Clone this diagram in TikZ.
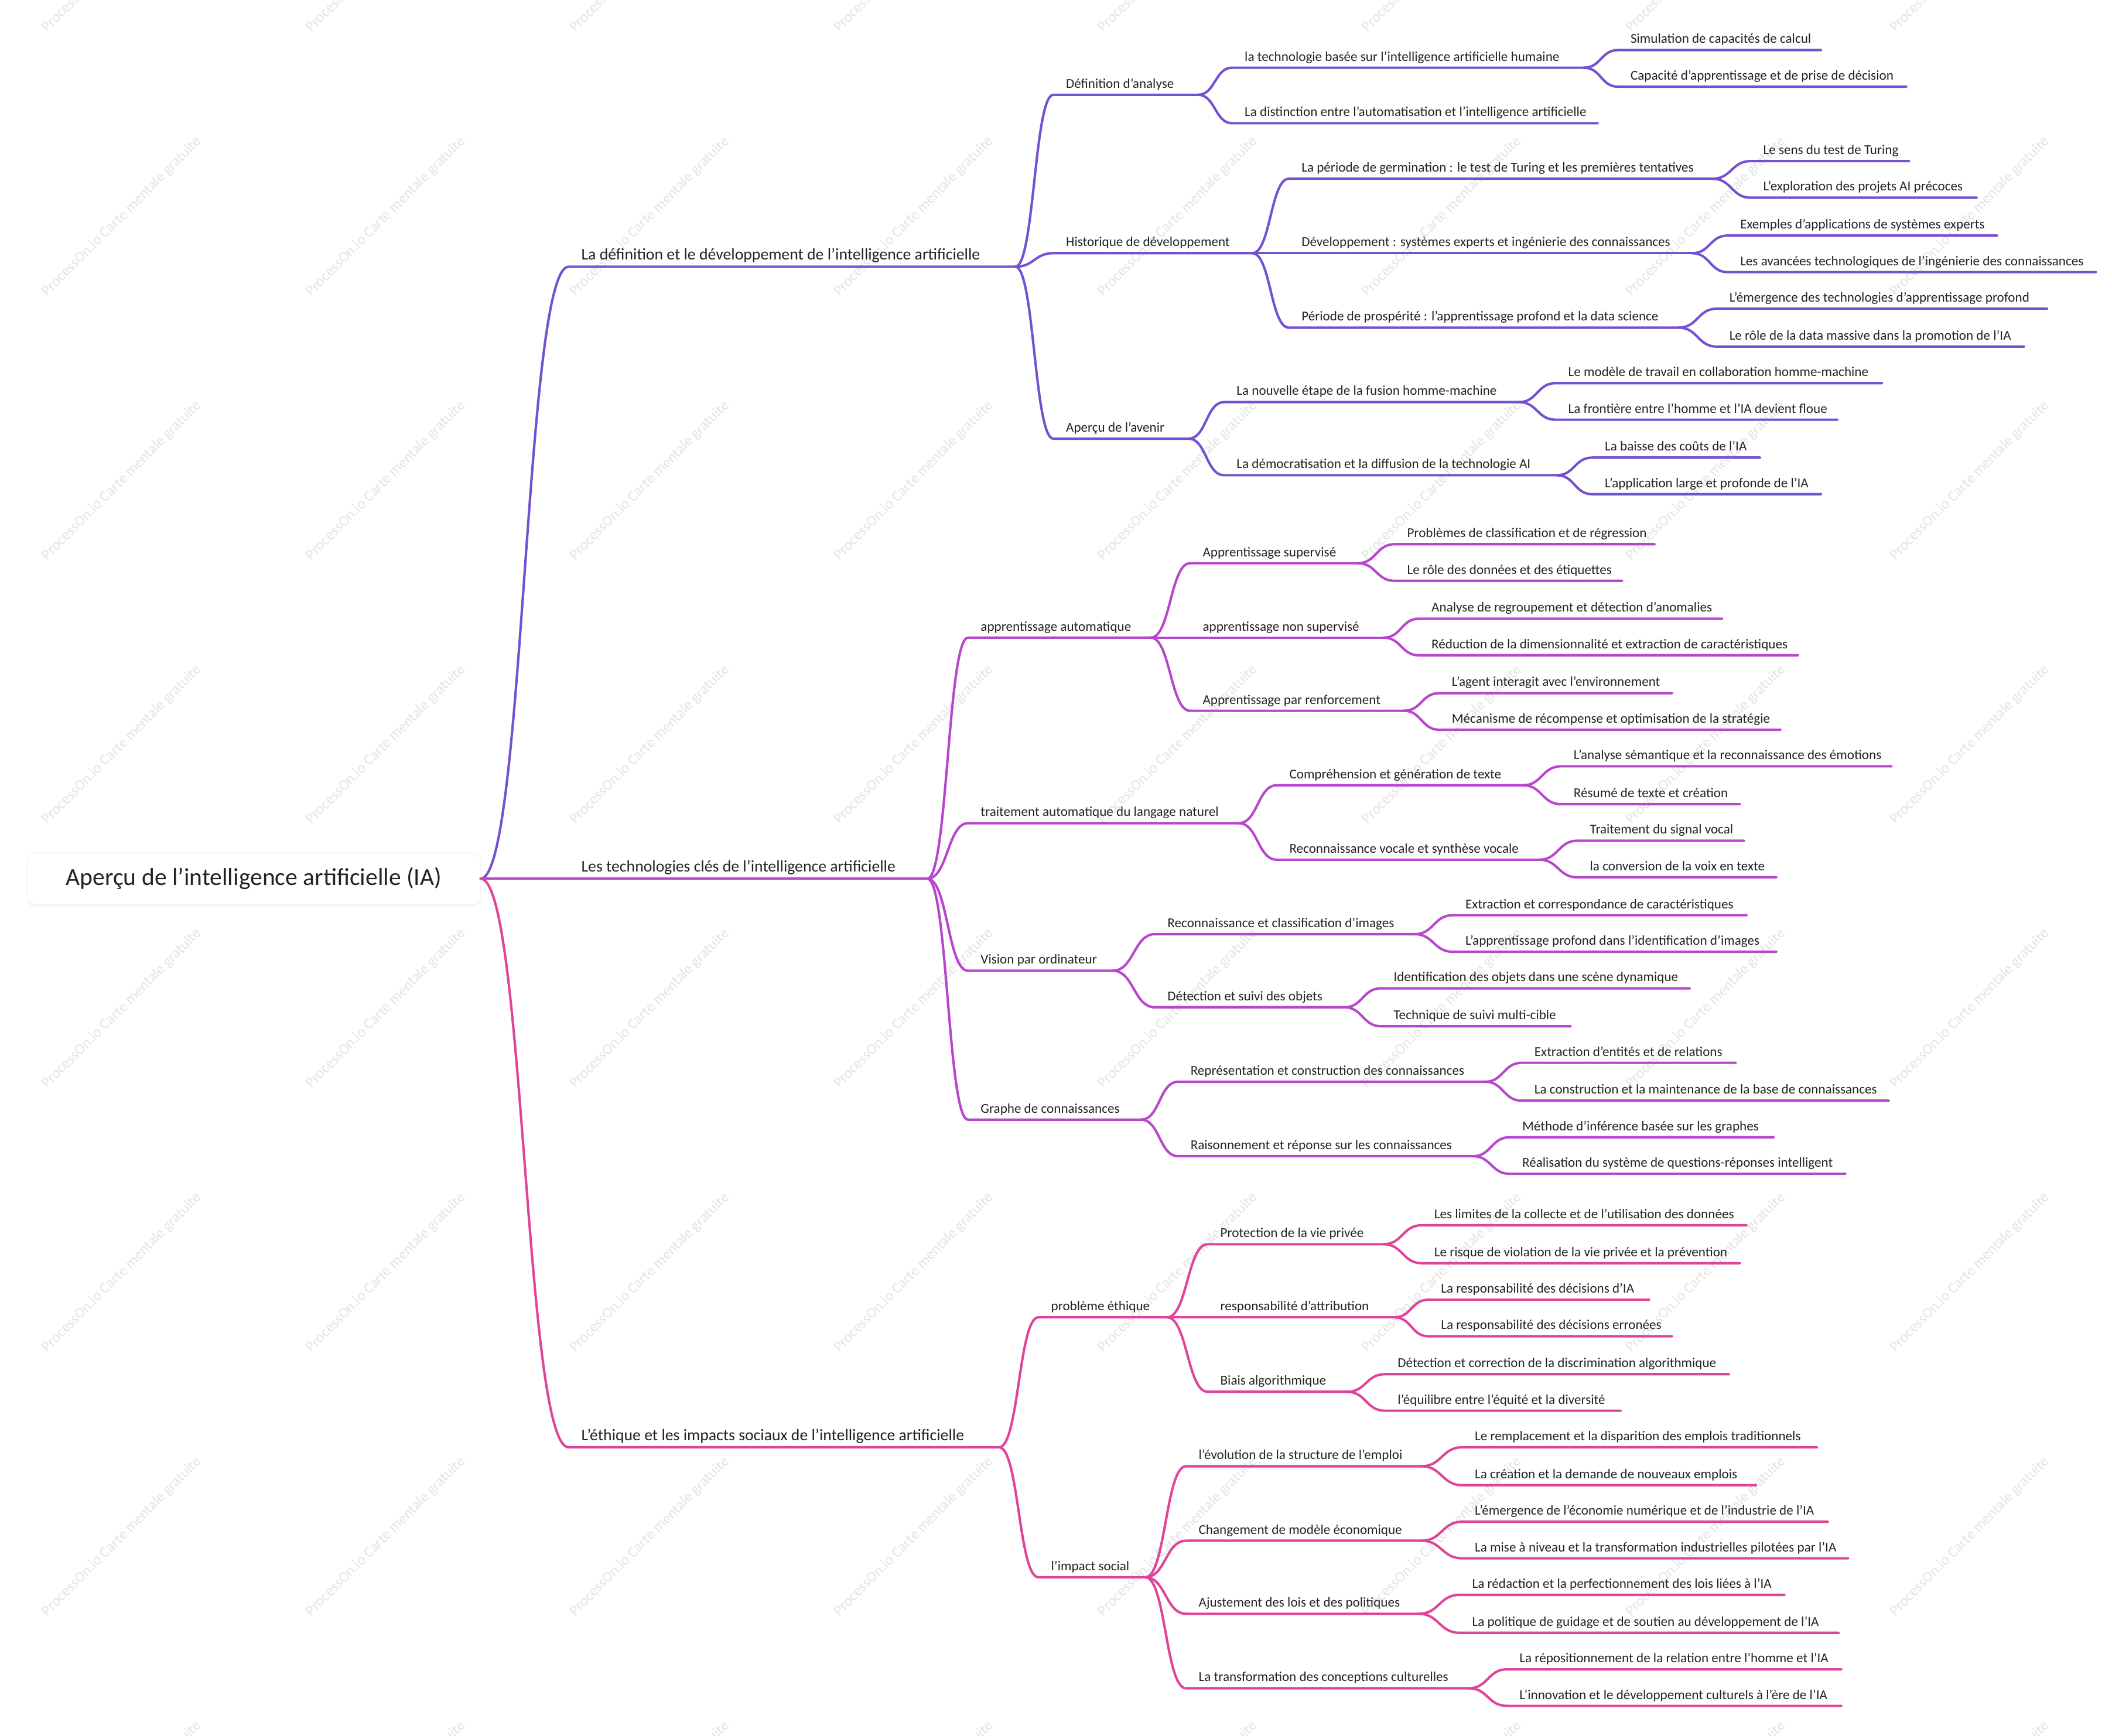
\documentclass[tikz,border=0pt]{standalone}
\usepackage{fontspec}
\setmainfont{Carlito}
\usetikzlibrary{calc,shadows}
\definecolor{cA}{HTML}{7450D2}
\definecolor{cB}{HTML}{B846CC}
\definecolor{cC}{HTML}{E0449A}
\definecolor{tx}{HTML}{222222}
\newcommand\mm[8]{%
 \coordinate (#1-s) at (#3,#5);
 \coordinate (#1-e) at (#4,#5);
 \node[anchor=base west,inner sep=0pt,text=tx,font=\fontsize{#7}{#7}\selectfont] (#1) at (#3+9,#5-5) {#6};
 \draw[#8,line width=0.9pt,line cap=round] let \p1=(#2-e), \p2=(#1-s) in
   (\p1) .. controls ({0.5*\x1+0.5*\x2},\y1) and ({0.5*\x1+0.5*\x2},\y2) .. (\p2) -- (#1-e);
}
\newcommand\La[6]{\mm{#1}{#2}{#3}{#4}{#5}{#6}{6pt}{cA}}
\newcommand\Lb[6]{\mm{#1}{#2}{#3}{#4}{#5}{#6}{5pt}{cA}}
\newcommand\Ba[6]{\mm{#1}{#2}{#3}{#4}{#5}{#6}{6pt}{cB}}
\newcommand\Bb[6]{\mm{#1}{#2}{#3}{#4}{#5}{#6}{5pt}{cB}}
\newcommand\Ca[6]{\mm{#1}{#2}{#3}{#4}{#5}{#6}{6pt}{cC}}
\newcommand\Cb[6]{\mm{#1}{#2}{#3}{#4}{#5}{#6}{5pt}{cC}}
\begin{document}
\begin{tikzpicture}[x=0.5pt,y=-0.5pt]
\useasboundingbox (0,0) rectangle (1560,1282);
% watermarks
\foreach \i in {0,...,7}{\foreach \j in {0,...,7}{
 \node[rotate=45,text=black!11,font=\fontsize{5.5pt}{5.5pt}\selectfont] (wm-\i-\j) at (90+195*\i,-35+195*\j) {ProcessOn.io Carte mentale gratuite};}}
% root
\node[draw=black!4,fill=white,rounded corners=3pt,drop shadow={opacity=0.08,shadow xshift=0pt,shadow yshift=-1pt},minimum width=335*0.5pt,minimum height=38*0.5pt,text=tx,font=\fontsize{9pt}{9pt}\selectfont] (root) at (187.5,649) {Aperçu de l'intelligence artificielle (IA)};
\coordinate (root-e) at (355,649);
% branch 1
\La{a}{root}{420}{750}{197}{La définition et le développement de l'intelligence artificielle}
\Lb{a1}{a}{778}{885}{70}{Définition d'analyse}
\Lb{a11}{a1}{910}{1170}{50}{la technologie basée sur l'intelligence artificielle humaine}
\Lb{a111}{a11}{1195}{1345}{37}{Simulation de capacités de calcul}
\Lb{a112}{a11}{1195}{1408}{64}{Capacité d'apprentissage et de prise de décision}
\Lb{a12}{a1}{910}{1180}{91}{La distinction entre l'automatisation et l'intelligence artificielle}
\Lb{a2}{a}{778}{925}{187}{Historique de développement}
\Lb{a21}{a2}{952}{1265}{132}{La période de germination : le test de Turing et les premières tentatives}
\Lb{a211}{a21}{1293}{1410}{119}{Le sens du test de Turing}
\Lb{a212}{a21}{1293}{1460}{146}{L'exploration des projets AI précoces}
\Lb{a22}{a2}{952}{1250}{187}{Développement : systèmes experts et ingénierie des connaissances}
\Lb{a221}{a22}{1276}{1475}{174}{Exemples d'applications de systèmes experts}
\Lb{a222}{a22}{1276}{1548}{201}{Les avancées technologiques de l'ingénierie des connaissances}
\Lb{a23}{a2}{952}{1240}{242}{Période de prospérité : l'apprentissage profond et la data science}
\Lb{a231}{a23}{1268}{1512}{228}{L'émergence des technologies d'apprentissage profond}
\Lb{a232}{a23}{1268}{1495}{256}{Le rôle de la data massive dans la promotion de l'IA}
\Lb{a3}{a}{778}{878}{324}{Aperçu de l'avenir}
\Lb{a31}{a3}{904}{1122}{297}{La nouvelle étape de la fusion homme-machine}
\Lb{a311}{a31}{1149}{1390}{283}{Le modèle de travail en collaboration homme-machine}
\Lb{a312}{a31}{1149}{1357}{310}{La frontière entre l'homme et l'IA devient floue}
\Lb{a32}{a3}{904}{1150}{351}{La démocratisation et la diffusion de la technologie AI}
\Lb{a321}{a32}{1176}{1300}{338}{La baisse des coûts de l'IA}
\Lb{a322}{a32}{1176}{1345}{365}{L'application large et profonde de l'IA}
% branch 2
\Ba{b}{root}{420}{685}{649}{Les technologies clés de l'intelligence artificielle}
\Bb{b1}{b}{715}{850}{471}{apprentissage automatique}
\Bb{b11}{b1}{879}{1003}{416}{Apprentissage supervisé}
\Bb{b111}{b11}{1030}{1222}{402}{Problèmes de classification et de régression}
\Bb{b112}{b11}{1030}{1198}{429}{Le rôle des données et des étiquettes}
\Bb{b12}{b1}{879}{1022}{471}{apprentissage non supervisé}
\Bb{b121}{b12}{1048}{1272}{457}{Analyse de regroupement et détection d'anomalies}
\Bb{b122}{b12}{1048}{1328}{484}{Réduction de la dimensionnalité et extraction de caractéristiques}
\Bb{b13}{b1}{879}{1037}{525}{Apprentissage par renforcement}
\Bb{b131}{b13}{1063}{1235}{512}{L'agent interagit avec l'environnement}
\Bb{b132}{b13}{1063}{1315}{539}{Mécanisme de récompense et optimisation de la stratégie}
\Bb{b2}{b}{715}{915}{608}{traitement automatique du langage naturel}
\Bb{b21}{b2}{943}{1125}{580}{Compréhension et génération de texte}
\Bb{b211}{b21}{1153}{1397}{566}{L'analyse sémantique et la reconnaissance des émotions}
\Bb{b212}{b21}{1153}{1285}{594}{Résumé de texte et création}
\Bb{b22}{b2}{943}{1137}{635}{Reconnaissance vocale et synthèse vocale}
\Bb{b221}{b22}{1165}{1288}{621}{Traitement du signal vocal}
\Bb{b222}{b22}{1165}{1312}{648}{la conversion de la voix en texte}
\Bb{b3}{b}{715}{822}{717}{Vision par ordinateur}
\Bb{b31}{b3}{853}{1045}{690}{Reconnaissance et classification d'images}
\Bb{b311}{b31}{1073}{1290}{676}{Extraction et correspondance de caractéristiques}
\Bb{b312}{b31}{1073}{1312}{703}{L'apprentissage profond dans l'identification d'images}
\Bb{b32}{b3}{853}{993}{744}{Détection et suivi des objets}
\Bb{b321}{b32}{1020}{1248}{730}{Identification des objets dans une scène dynamique}
\Bb{b322}{b32}{1020}{1160}{758}{Technique de suivi multi-cible}
\Bb{b4}{b}{715}{843}{827}{Graphe de connaissances}
\Bb{b41}{b4}{870}{1097}{799}{Représentation et construction des connaissances}
\Bb{b411}{b41}{1124}{1282}{785}{Extraction d'entités et de relations}
\Bb{b412}{b41}{1124}{1395}{813}{La construction et la maintenance de la base de connaissances}
\Bb{b42}{b4}{870}{1088}{854}{Raisonnement et réponse sur les connaissances}
\Bb{b421}{b42}{1115}{1310}{840}{Méthode d'inférence basée sur les graphes}
\Bb{b422}{b42}{1115}{1363}{867}{Réalisation du système de questions-réponses intelligent}
% branch 3
\Ca{c}{root}{420}{738}{1069}{L'éthique et les impacts sociaux de l'intelligence artificielle}
\Cb{c1}{c}{767}{862}{973}{problème éthique}
\Cb{c11}{c1}{892}{1022}{919}{Protection de la vie privée}
\Cb{c111}{c11}{1050}{1290}{905}{Les limites de la collecte et de l'utilisation des données}
\Cb{c112}{c11}{1050}{1285}{933}{Le risque de violation de la vie privée et la prévention}
\Cb{c12}{c1}{892}{1030}{973}{responsabilité d'attribution}
\Cb{c121}{c12}{1055}{1218}{960}{La responsabilité des décisions d'IA}
\Cb{c122}{c12}{1055}{1235}{987}{La responsabilité des décisions erronées}
\Cb{c13}{c1}{892}{995}{1028}{Biais algorithmique}
\Cb{c131}{c13}{1023}{1277}{1015}{Détection et correction de la discrimination algorithmique}
\Cb{c132}{c13}{1023}{1197}{1042}{l'équilibre entre l'équité et la diversité}
\Cb{c2}{c}{767}{846}{1165}{l'impact social}
\Cb{c21}{c2}{876}{1050}{1083}{l'évolution de la structure de l'emploi}
\Cb{c211}{c21}{1080}{1342}{1069}{Le remplacement et la disparition des emplois traditionnels}
\Cb{c212}{c21}{1080}{1297}{1097}{La création et la demande de nouveaux emplois}
\Cb{c22}{c2}{876}{1050}{1138}{Changement de modèle économique}
\Cb{c221}{c22}{1080}{1350}{1124}{L'émergence de l'économie numérique et de l'industrie de l'IA}
\Cb{c222}{c22}{1080}{1365}{1151}{La mise à niveau et la transformation industrielles pilotées par l'IA}
\Cb{c23}{c2}{876}{1048}{1192}{Ajustement des lois et des politiques}
\Cb{c231}{c23}{1078}{1318}{1178}{La rédaction et la perfectionnement des lois liées à l'IA}
\Cb{c232}{c23}{1078}{1358}{1206}{La politique de guidage et de soutien au développement de l'IA}
\Cb{c24}{c2}{876}{1085}{1247}{La transformation des conceptions culturelles}
\Cb{c241}{c24}{1113}{1360}{1233}{La répositionnement de la relation entre l'homme et l'IA}
\Cb{c242}{c24}{1113}{1360}{1260}{L'innovation et le développement culturels à l'ère de l'IA}
\end{tikzpicture}
\end{document}
